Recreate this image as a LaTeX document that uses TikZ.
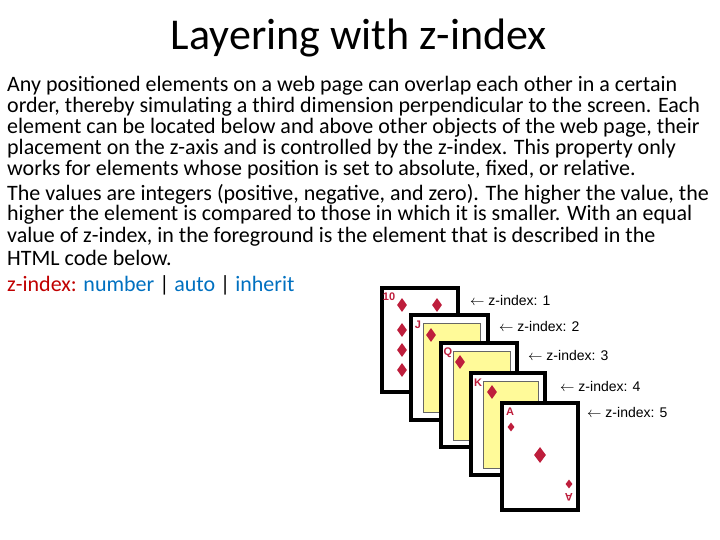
\documentclass[tikz,border=0pt]{standalone}
\usepackage{fontspec}
\setmainfont{Carlito}
\newfontfamily\arialf{Liberation Sans}
\usetikzlibrary{shapes.geometric}
\definecolor{kw}{RGB}{192,0,0}
\definecolor{vl}{RGB}{0,112,192}
\definecolor{cardred}{RGB}{190,30,60}
\begin{document}
\begin{tikzpicture}[x=1pt,y=-1pt,
  body/.style={anchor=west,inner sep=0pt,font=\fontsize{22}{21}\selectfont},
  card/.style={draw=black,line width=4pt,fill=white},
  dia/.style={diamond,fill=cardred,inner sep=0pt,minimum width=10pt,minimum height=14pt},
  rank/.style={text=cardred,font=\arialf\fontsize{11}{11}\selectfont\bfseries,inner sep=0pt},
  lab/.style={anchor=west,inner sep=0pt,font=\arialf\fontsize{14}{14}\selectfont},
  face/.style={draw=black!60,fill=yellow!40,line width=0.5pt}]
\useasboundingbox (0,0) rectangle (720,540);
\node[font=\fontsize{44}{46}\selectfont,inner sep=0pt] (title) at (359,38) {Layering with z-index};
\node[body] (l1) at (7,86) {Any positioned elements on a web page can overlap each other in a certain};
\node[body] (l2) at (7,107) {order, thereby simulating a third dimension perpendicular to the screen. Each};
\node[body] (l3) at (7,128) {element can be located below and above other objects of the web page, their};
\node[body] (l4) at (7,149) {placement on the z-axis and is controlled by the z-index. This property only};
\node[body] (l5) at (7,170) {works for elements whose position is set to absolute, fixed, or relative.};
\node[body] (l6) at (7,194) {The values are integers (positive, negative, and zero). The higher the value, the};
\node[body] (l7) at (7,215) {higher the element is compared to those in which it is smaller. With an equal};
\node[body] (l8) at (7,237) {value of z-index, in the foreground is the element that is described in the};
\node[body] (l9) at (7,258) {HTML code below.};
\node[body] (l10) at (7,285) {\textcolor{kw}{z-index:} \textcolor{vl}{number} | \textcolor{vl}{auto} | \textcolor{vl}{inherit}};
% card 1 (10)
\draw[card] (382,288) rectangle (458,392);
\node[rank] (r1) at (389,297) {10};
\node[dia] (d1a) at (402,305) {}; \node[dia] (d1b) at (437,305) {};
\node[dia] (d1c) at (402,330) {}; \node[dia] (d1d) at (402,350) {}; \node[dia] (d1e) at (402,370) {};
% card 2 (J)
\draw[card] (411,315) rectangle (488,420);
\draw[face] (423,323) rectangle (480,412);
\node[rank] (r2) at (418,325) {J};
\node[dia] (d2) at (431,335) {};
% card 3 (Q)
\draw[card] (441,343) rectangle (517,447);
\draw[face] (453,351) rectangle (510,440);
\node[rank] (r3) at (448,353) {Q};
\node[dia] (d3) at (460,362) {};
% card 4 (K)
\draw[card] (471,373) rectangle (545,475);
\draw[face] (483,381) rectangle (538,468);
\node[rank] (r4) at (478,383) {K};
\node[dia] (d4) at (492,392) {};
% card 5 (A)
\draw[card] (502,403) rectangle (578,510);
\node[rank] (r5) at (510,412) {A};
\node[dia,minimum width=7pt,minimum height=9pt] (d5a) at (511,427) {};
\node[dia,minimum width=12pt,minimum height=16pt] (d5b) at (540,455) {};
\node[dia,minimum width=7pt,minimum height=9pt] (d5c) at (569,484) {};
\node[rank,rotate=180] (r5b) at (569,497) {A};
% labels
\node[lab] (z1) at (470,300) {$\leftarrow$ z-index: 1};
\node[lab] (z2) at (499,326) {$\leftarrow$ z-index: 2};
\node[lab] (z3) at (528,355) {$\leftarrow$ z-index: 3};
\node[lab] (z4) at (560,386) {$\leftarrow$ z-index: 4};
\node[lab] (z5) at (587,412) {$\leftarrow$ z-index: 5};
\end{tikzpicture}
\end{document}
